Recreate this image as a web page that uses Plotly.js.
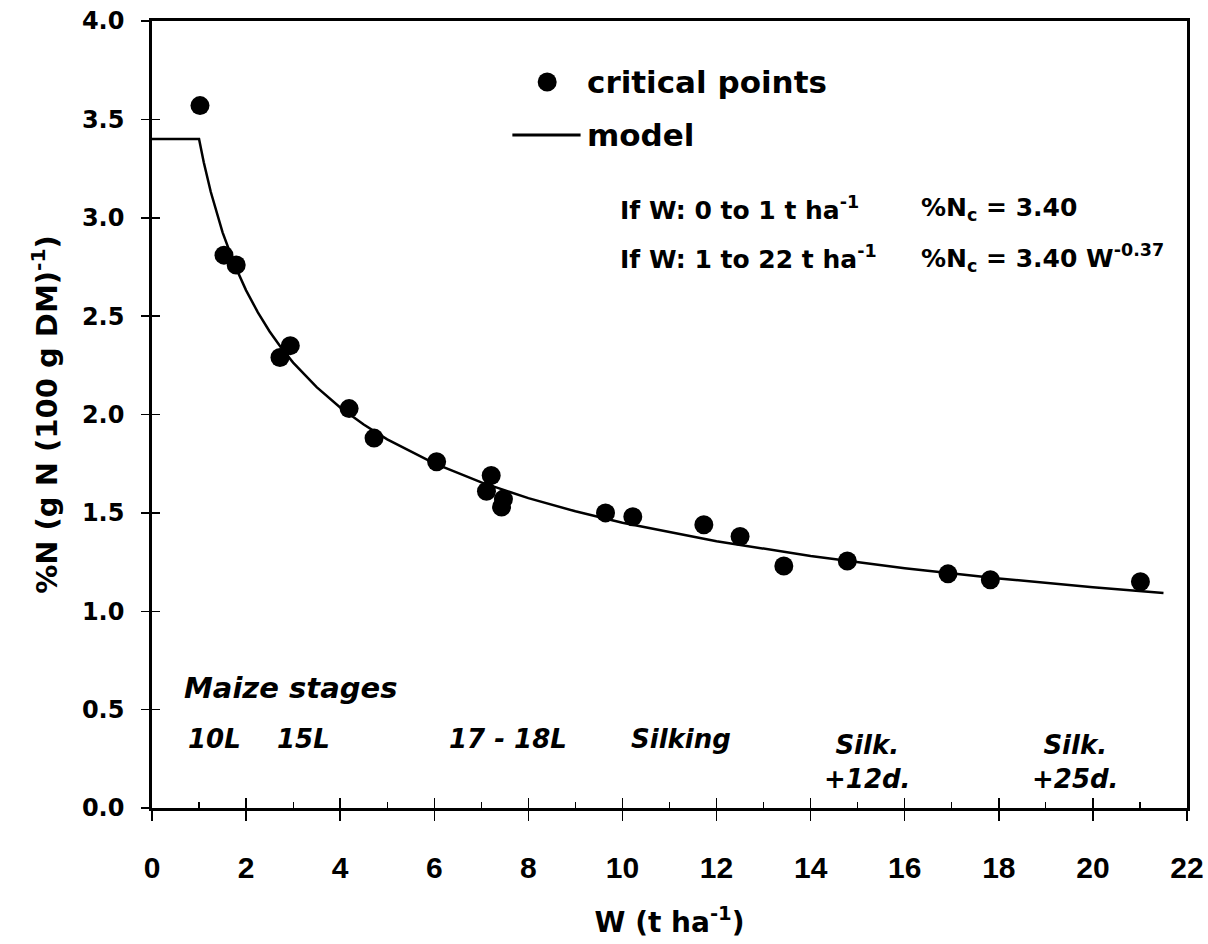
<!DOCTYPE html>
<html>
<head>
<meta charset="utf-8">
<script src="https://cdn.plot.ly/plotly-3.0.1.min.js"></script>
<style>
  html, body { margin: 0; padding: 0; background: #fff; }
  #chart { width: 1208px; height: 944px; }
</style>
</head>
<body>
<div id="chart"></div>
<script>
// Critical nitrogen points: shoot biomass W (t/ha) and %N
const pointW = [1.02, 1.53, 1.79, 2.72, 2.94, 4.19, 4.72, 6.05, 7.11, 7.21, 7.43, 7.47,
                9.64, 10.22, 11.73, 12.50, 13.43, 14.78, 16.92, 17.82, 21.01];
const pointN = [3.57, 2.81, 2.76, 2.29, 2.35, 2.03, 1.88, 1.76, 1.61, 1.69, 1.53, 1.57,
                1.50, 1.48, 1.44, 1.38, 1.23, 1.255, 1.19, 1.16, 1.15];

// Dilution curve: %Nc = 3.40 for W <= 1, %Nc = 3.40 W^-0.37 beyond
const modelW = [0, 1, 1.1, 1.25, 1.5, 1.75, 2, 2.25, 2.5, 2.75, 3, 3.5, 4, 4.5, 5, 6, 7, 8, 9,
                10, 12, 14, 16, 18, 20, 21.5];
const modelN = [3.40, 3.40, 3.282, 3.131, 2.926, 2.764, 2.631, 2.519, 2.422, 2.338, 2.264,
                2.139, 2.036, 1.949, 1.874, 1.752, 1.655, 1.575, 1.508, 1.450, 1.356, 1.281,
                1.219, 1.167, 1.122, 1.093];

// Growth stage labels along the W axis
const stageLabels = ['10L', '15L', '17 - 18L', 'Silking', 'Silk.<br>+12d.', 'Silk.<br>+25d.'];
const stageW = [0.72, 2.62, 6.26, 10.13, 15.19, 19.62];

const xTicks = [0, 2, 4, 6, 8, 10, 12, 14, 16, 18, 20, 22];
const xMinor = [1, 3, 5, 7, 9, 11, 13, 15, 17, 19, 21];
const yTicks = [0, 0.5, 1, 1.5, 2, 2.5, 3, 3.5, 4];
const yTickText = ['0.0', '0.5', '1.0', '1.5', '2.0', '2.5', '3.0', '3.5', '4.0'];

const NARROW = 'Liberation Sans, Arial, sans-serif';
const WIDE = 'DejaVu Sans, Liberation Sans, sans-serif';

const traces = [
  {
    x: modelW, y: modelN, name: 'model', type: 'scatter', mode: 'lines',
    line: {color: '#000', width: 2.5}, showlegend: false, hoverinfo: 'skip',
    xaxis: 'x', yaxis: 'y'
  },
  {
    x: pointW, y: pointN, name: 'critical points', type: 'scatter', mode: 'markers',
    marker: {color: '#000', size: 19, symbol: 'circle'}, showlegend: false,
    xaxis: 'x2', yaxis: 'y2'
  }
];

const baseX = {
  range: [0, 22], tickvals: xTicks, ticktext: xTicks.map(String),
  showgrid: false, zeroline: false, showline: true, linecolor: '#000', linewidth: 2.8,
  tickcolor: '#000', tickwidth: 1.5
};
const baseY = {
  range: [0, 4], tickvals: yTicks, ticktext: yTickText,
  showgrid: false, zeroline: false, showline: true, linecolor: '#000', linewidth: 2.8,
  tickcolor: '#000', tickwidth: 1.5
};

const font = (size, extra) => Object.assign({family: WIDE, size: size, color: '#000', weight: 'bold'}, extra || {});

const annotations = [
  {x: 9.21, y: 3.69, text: 'critical points', xanchor: 'left', yanchor: 'middle', font: font(31)},
  {x: 9.21, y: 3.42, text: 'model', xanchor: 'left', yanchor: 'middle', font: font(31)},
  {x: 9.90, y: 3.045, text: 'If W: 0 to 1 t ha<sup>-1</sup>', xanchor: 'left', yanchor: 'middle', font: font(25)},
  {x: 16.30, y: 3.045, text: '%N<sub>c</sub> = 3.40', xanchor: 'left', yanchor: 'middle', font: font(25)},
  {x: 9.90, y: 2.797, text: 'If W: 1 to 22 t ha<sup>-1</sup>', xanchor: 'left', yanchor: 'middle', font: font(25)},
  {x: 16.30, y: 2.797, text: '%N<sub>c</sub> = 3.40 W<sup>-0.37</sup>', xanchor: 'left', yanchor: 'middle', font: font(25)},
  {x: 0.64, y: 0.61, text: 'Maize stages', xanchor: 'left', yanchor: 'middle', font: font(29, {style: 'italic'})}
];
stageLabels.forEach((t, i) => {
  const twoLine = t.indexOf('<br>') >= 0;
  annotations.push({
    x: stageW[i], y: twoLine ? 0.235 : 0.35, text: t,
    xanchor: twoLine ? 'center' : 'left', yanchor: 'middle', align: 'center',
    font: font(26, {style: 'italic'})
  });
});
annotations.forEach(a => { a.xref = 'x'; a.yref = 'y'; a.showarrow = false; });

const layout = {
  width: 1208, height: 944,
  margin: {l: 152, r: 21, t: 21, b: 136},
  paper_bgcolor: '#fff', plot_bgcolor: '#fff',
  showlegend: false,
  xaxis: Object.assign({}, baseX, {
    ticks: 'outside', ticklen: 10, mirror: true,
    tickfont: {family: NARROW, size: 30, color: '#000', weight: 'bold'},
    ticklabelstandoff: 21,
    minor: {tickvals: xMinor, ticks: 'inside', ticklen: 6, tickwidth: 1.2, tickcolor: '#000'},
    title: {text: 'W (t ha<sup>-1</sup>)', standoff: 30, font: font(28)}
  }),
  yaxis: Object.assign({}, baseY, {
    ticks: 'outside', ticklen: 8, mirror: true,
    tickfont: font(24),
    ticklabelstandoff: 12,
    title: {text: '%N (g N (100 g DM)<sup>-1</sup>)', standoff: 16, font: font(29)}
  }),
  xaxis2: Object.assign({}, baseX, {
    overlaying: 'x', matches: 'x', anchor: 'y2', ticks: 'inside', ticklen: 10,
    showticklabels: false, showline: false
  }),
  yaxis2: Object.assign({}, baseY, {
    overlaying: 'y', matches: 'y', anchor: 'x2', ticks: 'inside', ticklen: 8,
    showticklabels: false, showline: false
  }),
  annotations: annotations,
  shapes: [
    // legend symbols
    {type: 'circle', xref: 'x', yref: 'y', xsizemode: 'pixel', ysizemode: 'pixel',
     xanchor: 8.40, yanchor: 3.69, x0: -9.5, x1: 9.5, y0: -9.5, y1: 9.5,
     fillcolor: '#000', line: {width: 0}},
    {type: 'line', xref: 'x', yref: 'y', x0: 7.66, x1: 9.11, y0: 3.42, y1: 3.42,
     line: {color: '#000', width: 3}}
  ]
};

Plotly.newPlot('chart', traces, layout, {displayModeBar: false, staticPlot: true});
</script>
</body>
</html>
